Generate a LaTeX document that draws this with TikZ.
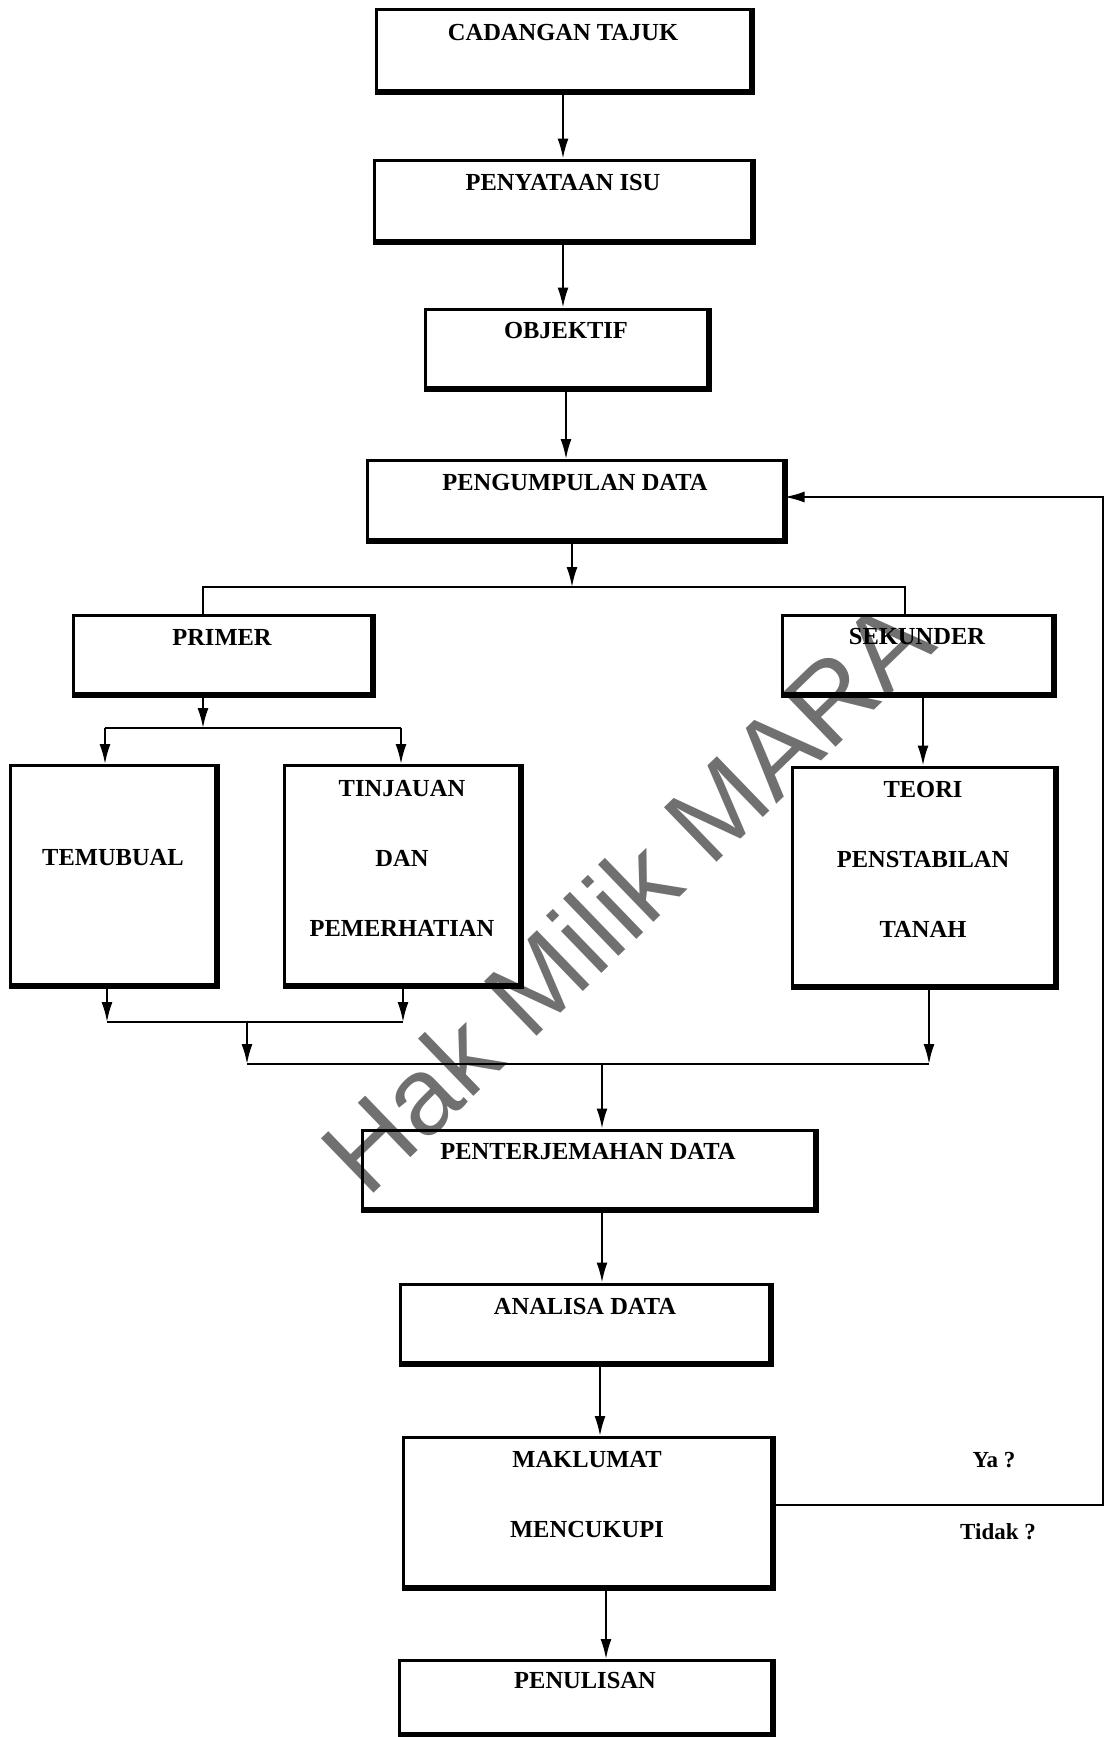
\documentclass[tikz,border=0pt]{standalone}
\usepackage{fontspec}
\setmainfont{Liberation Serif}
\newfontfamily\markfont{Liberation Sans}
\usetikzlibrary{arrows.meta}

\newcommand\boxfont{\fontsize{24.5}{70}\selectfont\bfseries}

\tikzset{
  stage/.style={draw, line width=3pt, inner sep=0pt},
  caption/.style={font=\boxfont, align=center, yshift=17pt},
  flow/.style={line width=2pt, -{Latex[length=20pt,width=11pt]}},
  link/.style={line width=2pt},
  answer/.style={font=\fontsize{23}{27}\selectfont\bfseries},
}

\begin{document}
\begin{tikzpicture}[x=1pt, y=-1pt]
  \useasboundingbox (0,0) rectangle (1107,1737);

  % Tera air
  \node[font=\markfont\fontsize{110}{120}\selectfont, text=black!56, rotate=44] (tera) at (626,895) {Hak Milik MARA};

  % Kotak utama
  \node[stage, minimum width=374pt, minimum height=80pt, label={[caption]center:CADANGAN TAJUK}] (tajuk) at (563,50) {};
  \node[stage, minimum width=377pt, minimum height=80pt, label={[caption]center:PENYATAAN ISU}] (isu) at (563,200) {};
  \node[stage, minimum width=282pt, minimum height=78pt, label={[caption]center:OBJEKTIF}] (objektif) at (566,348) {};
  \node[stage, minimum width=416pt, minimum height=79pt, label={[caption]center:PENGUMPULAN DATA}] (kumpul) at (575,500) {};

  % Cabang primer dan sekunder
  \node[stage, minimum width=298pt, minimum height=78pt, label={[caption]center:PRIMER}] (primer) at (222,654) {};
  \node[stage, minimum width=270pt, minimum height=78pt, label={[caption]center:SEKUNDER}] (sekunder) at (917,654) {};
  \node[stage, minimum width=205pt, minimum height=219pt, label={[caption]center:TEMUBUAL}] (temubual) at (113,875) {};
  \node[stage, minimum width=235pt, minimum height=219pt, label={[caption]center:TINJAUAN\\DAN\\PEMERHATIAN}] (tinjauan) at (402,875) {};
  \node[stage, minimum width=262pt, minimum height=218pt, label={[caption]center:TEORI\\PENSTABILAN\\TANAH}] (teori) at (923,876) {};

  % Kotak bawah
  \node[stage, minimum width=452pt, minimum height=78pt, label={[caption]center:PENTERJEMAHAN DATA}] (terjemah) at (588,1169) {};
  \node[stage, minimum width=369pt, minimum height=78pt, label={[caption]center:ANALISA DATA}] (analisa) at (585,1323) {};
  \node[stage, minimum width=368pt, minimum height=149pt, label={[caption]center:MAKLUMAT\\MENCUKUPI}] (maklumat) at (587,1512) {};
  \node[stage, minimum width=372pt, minimum height=73pt, label={[caption]center:PENULISAN}] (tulis) at (585,1697) {};

  % Bayang kotak
  \foreach \n in {tajuk, isu, objektif, kumpul, primer, sekunder, temubual, tinjauan, teori, terjemah, analisa, maklumat, tulis}
    \draw[line width=4pt] ([yshift=-1pt]\n.south west) -- ([shift={(1pt,-1pt)}]\n.south east) -- ([xshift=1pt]\n.north east);

  % Titik cabang
  \coordinate (split) at (572,587);
  \coordinate (splitL) at (203,587);
  \coordinate (splitR) at (905,587);
  \coordinate (fork) at (203,728);
  \coordinate (forkL) at (105,728);
  \coordinate (forkR) at (401,728);
  \coordinate (joinL) at (107,1022);
  \coordinate (joinR) at (403,1022);
  \coordinate (join) at (247,1022);
  \coordinate (mergeL) at (247,1064);
  \coordinate (mergeR) at (929,1064);
  \coordinate (merge) at (602,1064);
  \coordinate (back) at (1103,0);

  % Anak panah
  \draw[flow] (tajuk.south) -- (isu.north);
  \draw[flow] (isu.south) -- (isu.south |- objektif.north);
  \draw[flow] (objektif.south) -- (objektif.south |- kumpul.north);
  \draw[flow] (split |- kumpul.south) -- (split);
  \draw[link] (splitL |- primer.north) -- (splitL) -- (splitR) -- (splitR |- sekunder.north);

  \draw[flow] (fork |- primer.south) -- (fork);
  \draw[link] (forkL) -- (forkR);
  \draw[flow] (forkL) -- (forkL |- temubual.north);
  \draw[flow] (forkR) -- (forkR |- tinjauan.north);
  \draw[flow] (teori.north |- sekunder.south) -- (teori.north);

  \draw[flow] (joinL |- temubual.south) -- (joinL);
  \draw[flow] (joinR |- tinjauan.south) -- (joinR);
  \draw[link] (joinL) -- (joinR);
  \draw[flow] (join) -- (mergeL);
  \draw[link] (mergeL) -- (mergeR);
  \draw[flow] (mergeR |- teori.south) -- (mergeR);
  \draw[flow] (merge) -- (merge |- terjemah.north);

  \draw[flow] (merge |- terjemah.south) -- (merge |- analisa.north);
  \draw[flow] ([xshift=15pt]analisa.south) -- ([xshift=15pt]analisa.south |- maklumat.north);
  \draw[flow] ([xshift=19pt]maklumat.south) -- ([xshift=19pt]maklumat.south |- tulis.north);

  % Gelung balik
  \draw[flow] ([yshift=7pt]maklumat.east) -- ([yshift=7pt]maklumat.east -| back) -- ([yshift=3pt]kumpul.east -| back) -- ([yshift=3pt]kumpul.east);
  \node[answer] (ya) at (994,1460) {Ya ?};
  \node[answer] (tidak) at (998,1532) {Tidak ?};
\end{tikzpicture}
\end{document}
